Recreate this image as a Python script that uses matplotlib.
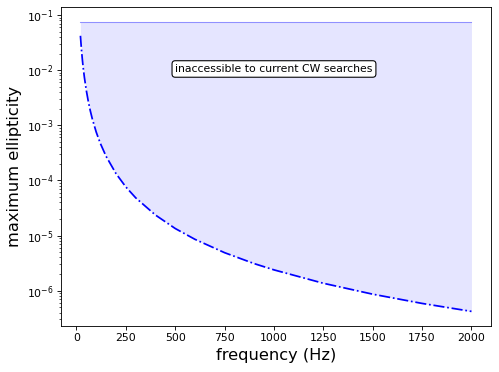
import matplotlib
matplotlib.use("Agg")
import matplotlib.pyplot as plt

freq = [20, 25, 30, 35, 40, 50, 60, 70, 80, 100, 120, 150, 200, 250, 300,
        400, 500, 600, 750, 900, 1000, 1250, 1500, 1750, 2000]
eps_max = [0.042, 0.0240, 0.0152, 0.01037, 0.00742, 0.00425, 0.00269, 0.00183,
           0.00131, 7.51e-4, 4.76e-4, 2.73e-4, 1.33e-4, 7.60e-5, 4.82e-5,
           2.35e-5, 1.34e-5, 8.52e-6, 4.88e-6, 3.09e-6, 2.38e-6, 1.36e-6,
           8.62e-7, 5.86e-7, 4.2e-7]
upper = 0.075
label_text = "inaccessible to current CW searches"

fig = plt.figure(figsize=(499 / 78, 372 / 78), dpi=78)
ax = fig.add_axes([0.122, 0.124, 0.862, 0.856])

ax.fill_between(freq, eps_max, [upper] * len(freq), color="blue", alpha=0.1, lw=0)
ax.plot([freq[0], freq[-1]], [upper, upper], color="blue", alpha=0.4, lw=1)
ax.plot(freq, eps_max, color="blue", ls="-.", lw=1.6)
ax.set_yscale("log")

ax.text(1000, 0.0105, label_text, ha="center", va="center", fontsize=10,
        bbox=dict(boxstyle="round", fc="white", ec="black"))

ax.set_xlabel("frequency (Hz)", fontsize=15)
ax.set_ylabel("maximum ellipticity", fontsize=15)

fig.savefig("out.png", dpi=78)
